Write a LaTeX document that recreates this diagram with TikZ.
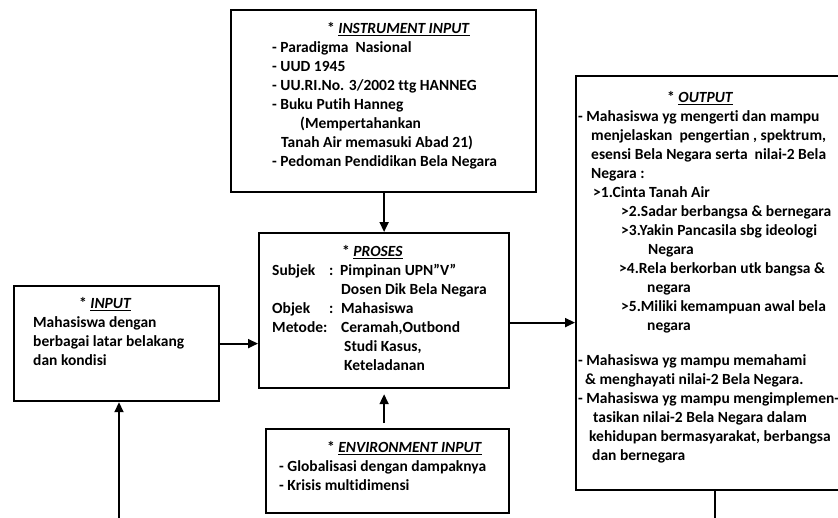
\documentclass[tikz,border=0pt]{standalone}
\usepackage{fontspec}
\setmainfont{Carlito}[Ligatures={NoCommon}]
\usepackage{tikz}
\usetikzlibrary{arrows.meta,positioning}
\newcommand{\boxtitle}[1]{* \underline{\textit{#1}}}

\begin{document}
\begin{tikzpicture}[
  x=1pt, y=-1pt,
  box/.style={draw=black, line width=2.2pt, fill=white, inner sep=0pt, anchor=north west},
  txt/.style={anchor=north west, inner sep=0pt, align=left,
              font=\bfseries\fontsize{15.5}{19}\selectfont},
  arr/.style={-{Triangle[length=10pt,width=9pt]}, line width=1.8pt, black}
]
\useasboundingbox (0,0) rectangle (838,517);
% boxes
\node[box, minimum width=305, minimum height=182] (instr) at (230,9) {};
\node[box, minimum width=250, minimum height=155] (proses) at (258,232) {};
\node[box, minimum width=205, minimum height=115] (input) at (13,285) {};
\node[box, minimum width=243, minimum height=84] (env) at (265,428) {};
\node[box, minimum width=280, minimum height=414] (output) at (575,75) {};
% texts
\node[txt] (instrtxt) at (272,22) {\hspace*{55pt}\boxtitle{INSTRUMENT INPUT}\\
- Paradigma\ \ Nasional\\
- UUD 1945\\
- UU.RI.No. 3/2002 ttg HANNEG\\
- Buku Putih Hanneg\\
\hspace*{28pt}(Mempertahankan\\
\hspace*{9pt}Tanah Air memasuki Abad 21)\\
- Pedoman Pendidikan Bela Negara};
\node[txt] (prosestxt) at (272,245) {\hspace*{70pt}\boxtitle{PROSES}\\
\makebox[57pt][l]{Subjek}\makebox[11pt][l]{:}Pimpinan UPN”V”\\
\hspace*{69pt}Dosen Dik Bela Negara\\
\makebox[57pt][l]{Objek}\makebox[12pt][l]{:}Mahasiswa\\
\makebox[51pt][l]{Metode}\makebox[18pt][l]{:}Ceramah,Outbond\\
\hspace*{72pt}Studi Kasus,\\
\hspace*{72pt}Keteladanan};
\node[txt] (inputtxt) at (33,297) {\hspace*{46pt}\boxtitle{INPUT}\\
Mahasiswa dengan\\
berbagai latar belakang\\
dan kondisi};
\node[txt] (envtxt) at (279,441) {\hspace*{48pt}\boxtitle{ENVIRONMENT INPUT}\\
- Globalisasi dengan dampaknya\\
- Krisis multidimensi};
\node[txt] (outputtxt) at (578,91) {\hspace*{89pt}\boxtitle{OUTPUT}\\
- Mahasiswa yg mengerti dan mampu\\
\hspace*{13pt}menjelaskan\ \ pengertian , spektrum,\\
\hspace*{13pt}esensi Bela Negara serta\ \ nilai-2 Bela\\
\hspace*{13pt}Negara :\\
\hspace*{15pt}>1.Cinta Tanah Air\\
\hspace*{43pt}>2.Sadar berbangsa \& bernegara\\
\hspace*{43pt}>3.Yakin Pancasila sbg ideologi\\
\hspace*{70pt}Negara\\
\hspace*{41pt}>4.Rela berkorban utk bangsa \&\\
\hspace*{69pt}negara\\
\hspace*{43pt}>5.Miliki kemampuan awal bela\\
\hspace*{69pt}negara\\[16pt]
- Mahasiswa yg mampu memahami\\
\hspace*{7pt}\& menghayati nilai-2 Bela Negara.\\
- Mahasiswa yg mampu mengimplemen-\\
\hspace*{15pt}tasikan nilai-2 Bela Negara dalam\\
\hspace*{11pt}kehidupan bermasyarakat, berbangsa\\
\hspace*{14pt}dan bernegara};
% free ends
\coordinate (inbot) at (119,520);
\coordinate (outbot) at (715,520);
% connectors
\draw[arr] (instr.south -| proses.north) -- (proses.north);
\draw[arr] ([yshift=5pt]env.north -| proses.south) -- ([yshift=-5pt]proses.south);
\draw[arr] (input.east) -- (input.east -| proses.west);
\draw[arr] ([yshift=-12pt]proses.east) -- ([yshift=-12pt]proses.east -| output.west);
\draw[arr] (inbot) -- (inbot |- input.south);
\draw[line width=1.8pt] (outbot |- output.south) -- (outbot);
\end{tikzpicture}
\end{document}
